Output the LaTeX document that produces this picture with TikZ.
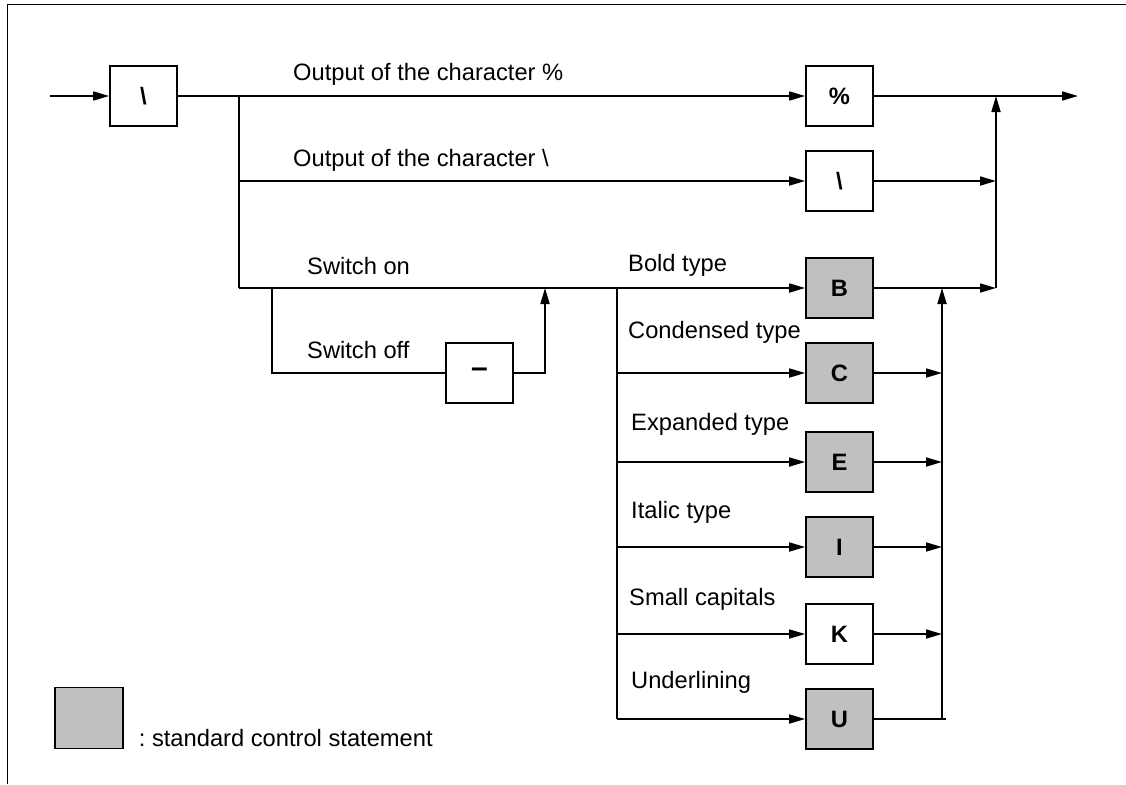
\documentclass[tikz,border=0pt]{standalone}
\usepackage{fontspec}
\setmainfont{Liberation Sans}
\usetikzlibrary{arrows.meta}
\definecolor{stdgray}{HTML}{C0C0C0}
\begin{document}
\frenchspacing
\begin{tikzpicture}[x=1pt,y=-1pt,
  every node/.style={font=\fontsize{23.7}{28}\selectfont},
  ln/.style={line width=1.7pt},
  arr/.style={ln,-{Triangle[length=16pt,width=9pt]}},
  box/.style={draw,ln,rectangle,minimum width=67pt,minimum height=60pt,inner sep=0pt,font=\fontsize{23.7}{28}\selectfont\bfseries},
  std/.style={box,fill=stdgray},
  lbl/.style={anchor=base west,inner sep=0pt}]
\useasboundingbox (0,0) rectangle (1126,784);
\draw[line width=1.8pt] (1126,4.5) -- (7.5,4.5) -- (7.5,784);

% boxes
\node[box] (bsl) at (143.5,96) {\textbackslash};
\node[box] (pct) at (839.5,96) {\%};
\node[box] (bs2) at (839.5,181) {\textbackslash};
\node[std] (B) at (839.5,288) {B};
\node[std] (C) at (839.5,373) {C};
\node[std] (E) at (839.5,462) {E};
\node[std] (I) at (839.5,547) {I};
\node[box] (K) at (839.5,634) {K};
\node[std] (U) at (839.5,719) {U};
\node[box,font=\fontsize{30}{30}\selectfont\bfseries] (minus) at (479.5,373) {\textendash};
\node[std,minimum width=68pt,minimum height=61pt] (leg) at (89.3,718) {};

% coordinates
\coordinate (in) at (50,96);
\coordinate (exit) at (1078,96);
\coordinate (j1) at (239,96);
\coordinate (j2) at (239,181);
\coordinate (j3) at (239,288);
\coordinate (s1) at (272,288);
\coordinate (s2) at (272,373);
\coordinate (m1) at (545,373);
\coordinate (m2) at (545,288);
\coordinate (tB) at (617,288);
\coordinate (tC) at (617,373);
\coordinate (tE) at (617,462);
\coordinate (tI) at (617,547);
\coordinate (tK) at (617,634);
\coordinate (tU) at (617,719);
\coordinate (rB) at (942,288);
\coordinate (rC) at (942,373);
\coordinate (rE) at (942,462);
\coordinate (rI) at (942,547);
\coordinate (rK) at (942,634);
\coordinate (rU) at (942,719);
\coordinate (uEnd) at (946,719);
\coordinate (o0) at (996,96);
\coordinate (o1) at (996,181);
\coordinate (o2) at (996,288);

% connectors
\draw[arr] (in) -- (bsl);
\draw[arr] (bsl) -- (pct);
\draw[arr] (pct) -- (exit);
\draw[ln] (j1) -- (j3);
\draw[arr] (j2) -- (bs2);
\draw[arr] (j3) -- (B);
\draw[ln] (s1) -- (s2) -- (minus);
\draw[arr] (minus) -- (m1) -- (m2);
\draw[ln] (tB) -- (tU);
\draw[arr] (tC) -- (C);
\draw[arr] (tE) -- (E);
\draw[arr] (tI) -- (I);
\draw[arr] (tK) -- (K);
\draw[arr] (tU) -- (U);
\draw[arr] (bs2) -- (o1);
\draw[arr] (B) -- (o2);
\draw[arr] (o2) -- (o0);
\draw[arr] (C) -- (rC);
\draw[arr] (E) -- (rE);
\draw[arr] (I) -- (rI);
\draw[arr] (K) -- (rK);
\draw[line width=2.6pt] (U) -- (uEnd);
\draw[arr] (rU) -- (rB);

% labels
\node[lbl] (l1) at (293,80) {Output of the character \%};
\node[lbl] (l2) at (293,166) {Output of the character \textbackslash};
\node[lbl] (lon) at (307,274) {Switch on};
\node[lbl] (loff) at (307,358) {Switch off};
\node[lbl] (lB) at (628,271) {Bold type};
\node[lbl] (lC) at (628,338) {Condensed type};
\node[lbl] (lE) at (631,430) {Expanded type};
\node[lbl] (lI) at (631,518) {Italic type};
\node[lbl] (lK) at (629,605) {Small capitals};
\node[lbl] (lU) at (631,688) {Underlining};
\node[lbl] (lleg) at (138.7,746) {: standard control statement};
\end{tikzpicture}
\end{document}
